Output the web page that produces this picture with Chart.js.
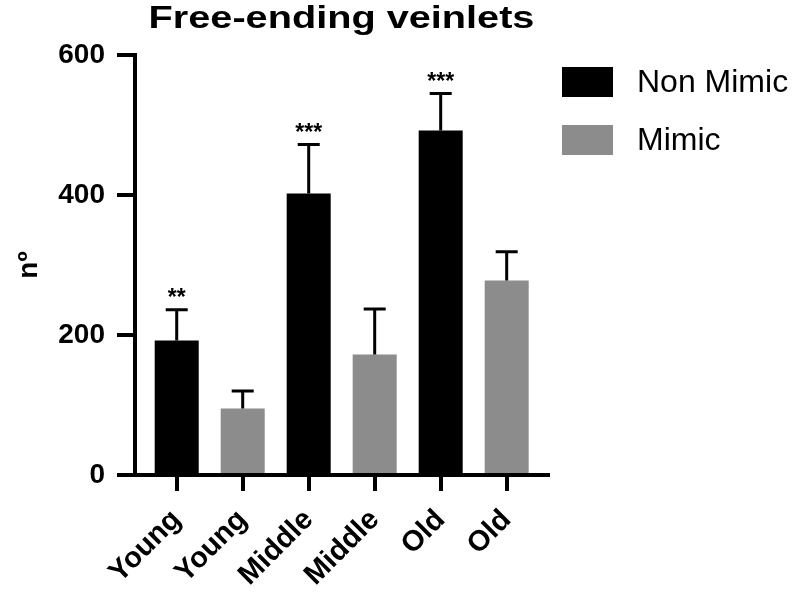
<!DOCTYPE html>
<html><head><meta charset="utf-8">
<script src="https://cdn.jsdelivr.net/npm/chart.js@4/dist/chart.umd.min.js"></script>
<style>html,body{margin:0;padding:0;background:#fff}</style>
</head><body>
<canvas id="c" width="800" height="592"></canvas>
<script>
const chartTitle = 'Free-ending veinlets';
const yAxisTitle = 'nº';
const categories = ['Young', 'Young', 'Middle', 'Middle', 'Old', 'Old'];
const seriesNames = ['Non Mimic', 'Mimic'];
const nonMimicPos = [0, 2, 4];
const nonMimicMean = [192, 402, 492];
const nonMimicErr = [44, 70, 53];
const nonMimicSig = ['**', '***', '***'];
const mimicPos = [1, 3, 5];
const mimicMean = [95, 172, 278];
const mimicErr = [25, 65, 41];
const mimicSig = ['', '', ''];
const yTicks = [0, 200, 400, 600];

const FAM = '"Liberation Sans", Arial, Helvetica, sans-serif';

const overlay = {
  id: 'overlay',
  afterDatasetsDraw(chart) {
    const ctx = chart.ctx, ys = chart.scales.y;
    chart.data.datasets.forEach((ds, di) => {
      const meta = chart.getDatasetMeta(di);
      meta.data.forEach((bar, i) => {
        const v = ds.data[i].y + ds.errors[i];
        const end = ys.getPixelForValue(v);
        const half = bar.width / 4;
        ctx.save();
        ctx.strokeStyle = '#000';
        ctx.lineWidth = 3;
        ctx.beginPath();
        ctx.moveTo(bar.x, bar.y);
        ctx.lineTo(bar.x, end);
        ctx.moveTo(bar.x - half, end);
        ctx.lineTo(bar.x + half, end);
        ctx.stroke();
        if (ds.sig[i]) {
          ctx.fillStyle = '#000';
          ctx.font = 'bold 23px ' + FAM;
          ctx.textAlign = 'center';
          ctx.textBaseline = 'alphabetic';
          ctx.fillText(ds.sig[i], bar.x, end - 5);
        }
        ctx.restore();
      });
    });
  },
  afterDraw(chart) {
    const ctx = chart.ctx, ca = chart.chartArea;
    // title
    ctx.save();
    ctx.fillStyle = '#000';
    ctx.font = 'bold 32px ' + FAM;
    ctx.textAlign = 'center';
    ctx.textBaseline = 'alphabetic';
    ctx.translate((ca.left + ca.right) / 2, 28);
    ctx.scale(1.24, 1);
    ctx.fillText(chartTitle, 0, 0);
    ctx.restore();
    // legend
    chart.data.datasets.forEach((ds, di) => {
      const top = 67 + di * 58;
      ctx.save();
      ctx.fillStyle = ds.backgroundColor;
      ctx.fillRect(562, top, 51, 30);
      ctx.fillStyle = '#000';
      ctx.font = '32px ' + FAM;
      ctx.textAlign = 'left';
      ctx.textBaseline = 'middle';
      ctx.fillText(ds.label, 637, top + 16);
      ctx.restore();
    });
  }
};

new Chart(document.getElementById('c'), {
  type: 'bar',
  data: {
    datasets: [
      {
        label: seriesNames[0],
        data: nonMimicPos.map((p, i) => ({x: p, y: nonMimicMean[i]})),
        errors: nonMimicErr,
        sig: nonMimicSig,
        backgroundColor: '#000000',
        borderWidth: 0
      },
      {
        label: seriesNames[1],
        data: mimicPos.map((p, i) => ({x: p, y: mimicMean[i]})),
        errors: mimicErr,
        sig: mimicSig,
        backgroundColor: '#8c8c8c',
        borderWidth: 0
      }
    ]
  },
  options: {
    responsive: false,
    animation: false,
    grouped: false,
    categoryPercentage: 1,
    barPercentage: 0.667,
    layout: {padding: {top: 55, right: 252, left: 0, bottom: 0}},
    plugins: {legend: {display: false}, title: {display: false}, tooltip: {enabled: false}},
    scales: {
      x: {
        type: 'linear',
        offset: false,
        min: -0.632,
        max: 5.626,
        afterBuildTicks: s => { s.ticks = categories.map((_, i) => ({value: i})); },
        afterFit: s => { s.height = 117; },
        grid: {display: true, offset: false, drawOnChartArea: false, drawTicks: true, tickLength: 16, color: '#000', lineWidth: 4},
        border: {display: true, color: '#000', width: 4},
        ticks: {
          callback: v => categories[v],
          minRotation: 45, maxRotation: 45, autoSkip: false,
          font: {family: FAM, size: 29, weight: 'bold'}, color: '#000', padding: 12
        }
      },
      y: {
        min: 0,
        max: 600,
        afterBuildTicks: s => { s.ticks = yTicks.map(v => ({value: v})); },
        afterFit: s => { s.width = 135; },
        grid: {display: true, drawOnChartArea: false, drawTicks: true, tickLength: 18, color: '#000', lineWidth: 4},
        border: {display: true, color: '#000', width: 4},
        ticks: {font: {family: FAM, size: 28, weight: 'bold'}, color: '#000', padding: 12},
        title: {display: true, text: yAxisTitle, font: {family: FAM, size: 28, weight: 'bold'}, color: '#000', padding: {top: 12, bottom: 0}}
      }
    }
  },
  plugins: [overlay]
});
</script>
</body></html>
